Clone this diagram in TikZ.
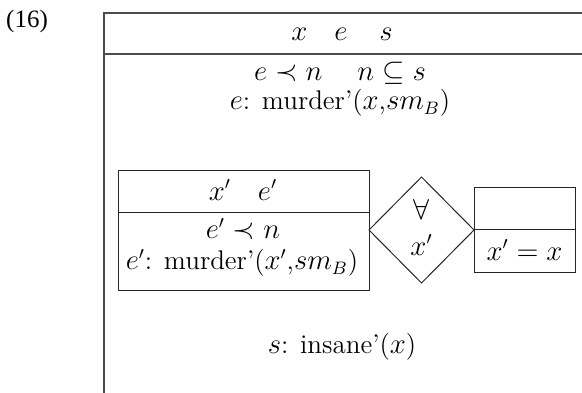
\documentclass[tikz,border=0pt]{standalone}
\usepackage{fontspec}
\newfontfamily\numfont{Liberation Serif}
\begin{document}
\begin{tikzpicture}[x=0.5pt,y=-0.5pt,
  outer/.style={line width=0.8pt,draw=black!70},
  inner/.style={line width=0.5pt,draw=black!85},
  txt/.style={inner sep=0pt,font=\fontsize{13.5}{16}\selectfont}]
\useasboundingbox (0,0) rectangle (582,392);
\clip (0,0) rectangle (582,392);

% example number
\node[inner sep=0pt,font=\fontsize{12.5}{14}\selectfont] (num) at (27,21) {\numfont(16)};

% outer box, runs past the page on the right and below
\draw[outer] (640,13) -- (104,13) -- (104,430);
\draw[outer] (104,54) -- (640,54);
\node[txt] (univ) at (342,34) {$x\quad e\quad\, s$};
\node[txt] (cond1) at (340,73) {$e \prec n\quad\; n \subseteq s$};
\node[txt] (cond2) at (340,103) {$e$: murder'($x$,$sm_B$)};

% left box
\draw[inner] (118,170) rectangle (369,290);
\draw[inner] (118,212) -- (369,212);
\node[txt] (luniv) at (243,190) {$x'\quad e'$};
\node[txt] (lcond1) at (243,229) {$e' \prec n$};
\node[txt] (lcond2) at (242,263) {$e'$: murder'($x'$,$sm_B$)};

% duplex condition
\draw[inner] (369,230) -- (421.5,177) -- (474,230) -- (421.5,283) -- cycle;
\node[txt] (quant) at (421.5,209) {$\forall$};
\node[txt] (qvar) at (421.5,245) {$x'$};

% right box
\draw[inner] (474,187) rectangle (575,272);
\draw[inner] (474,229) -- (575,229);
\node[txt] (rcond) at (524.5,250) {$x' = x$};

\node[txt] (cond3) at (342,347) {$s$: insane'($x$)};
\end{tikzpicture}
\end{document}
